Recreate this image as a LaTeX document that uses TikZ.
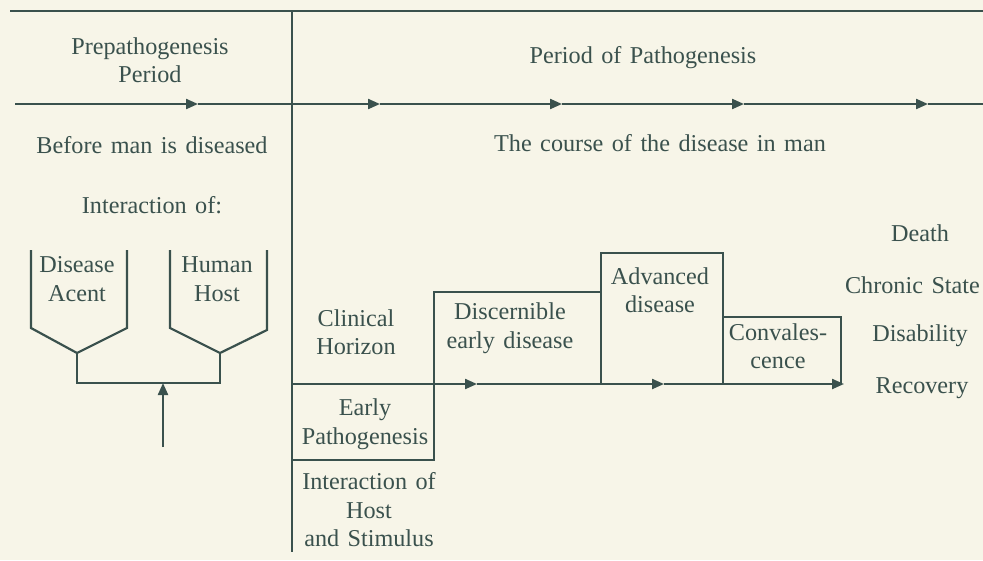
\documentclass[tikz,border=0pt]{standalone}
\usepackage{fontspec}
\setmainfont{Liberation Serif}[WordSpace=1.4]
\usetikzlibrary{arrows.meta}
\definecolor{ink}{HTML}{3A514D}
\definecolor{paper}{HTML}{F7F5E8}
\begin{document}
\begin{tikzpicture}[x=1pt,y=-1pt,
  line width=2.2pt, draw=ink,
  lbl/.style={text=ink, font=\fontsize{24.2}{28.5}\selectfont, align=center, inner sep=0pt},
  arr/.style={-{Triangle[length=12pt,width=10pt]}, draw=ink, line width=2.2pt},
  ln/.style={draw=ink, line width=2.2pt}]
\fill[paper] (0,0) rectangle (983,560);
\useasboundingbox (0,0) rectangle (983,560);

% frame lines
\coordinate (tl) at (10,11);
\coordinate (tr) at (983,11);
\coordinate (vt) at (292,11);
\coordinate (vb) at (292,552);
\draw[ln,line width=1.8pt] (tl) -- (tr);
\draw[ln] (vt) -- (vb);

% upper timeline
\coordinate (h0) at (15,104);
\coordinate (h1) at (198,104);
\coordinate (h2) at (380,104);
\coordinate (h3) at (562,104);
\coordinate (h4) at (744,104);
\coordinate (h5) at (928,104);
\coordinate (h6) at (983,104);
\draw[arr] (h0) -- (h1);
\draw[arr] (h1) -- (h2);
\draw[arr] (h2) -- (h3);
\draw[arr] (h3) -- (h4);
\draw[arr] (h4) -- (h5);
\draw[ln] (h5) -- (h6);

% headings
\node[lbl] (pre) at (150,60) {Prepathogenesis\\Period};
\node[lbl] (pat) at (643,58) {Period of Pathogenesis};
\node[lbl] (before) at (152,145) {Before man is diseased};
\node[lbl] (course) at (660,143) {The course of the disease in man};
\node[lbl] (inter) at (152,205) {Interaction of:};

% funnels
\draw[ln] (31,250) -- (31,328) -- (77,353) -- (127,328) -- (127,250);
\draw[ln] (170,250) -- (170,328) -- (220,353) -- (267,330) -- (267,250);
\coordinate (fl) at (77,353);
\coordinate (fr) at (220,353);
\coordinate (jn) at (163,383);
\coordinate (st) at (163,447);
\draw[ln] (fl) -- (77,383) -- (220,383) -- (fr);
\draw[arr] (st) -- (jn);
\node[lbl] (agent) at (77,279) {Disease\\Acent};
\node[lbl] (host) at (217,279) {Human\\Host};

% pathogenesis staircase
\coordinate (m0) at (292,384);
\coordinate (m1) at (477,384);
\coordinate (m2) at (664,384);
\coordinate (m3) at (844,384);
\draw[arr] (m0) -- (m1);
\draw[arr] (m1) -- (m2);
\draw[arr] (m2) -- (m3);
\draw[ln] (292,460) -- (434,460) -- (434,292) -- (601,292);
\draw[ln] (601,384) -- (601,253) -- (723,253) -- (723,384);
\draw[ln] (723,317) -- (841,317) -- (841,384);

\node[lbl] (clin) at (356,332) {Clinical\\Horizon};
\node[lbl] (disc) at (510,328) {Discernible\\early disease};
\node[lbl] (adv) at (660,290) {Advanced\\disease};
\node[lbl] (conv) at (778,346) {Convales-\\cence};
\node[lbl] (early) at (365,424) {Early\\Pathogenesis};
\node[lbl] (hs) at (369,510) {Interaction of\\Host\\and Stimulus};

% outcomes
\node[lbl] (death) at (920,233) {Death};
\node[lbl,anchor=east] (chron) at (981,285) {Chronic State};
\node[lbl] (disab) at (920,336) {Disability};
\node[lbl] (recov) at (922,388) {Recovery};
\end{tikzpicture}
\end{document}
